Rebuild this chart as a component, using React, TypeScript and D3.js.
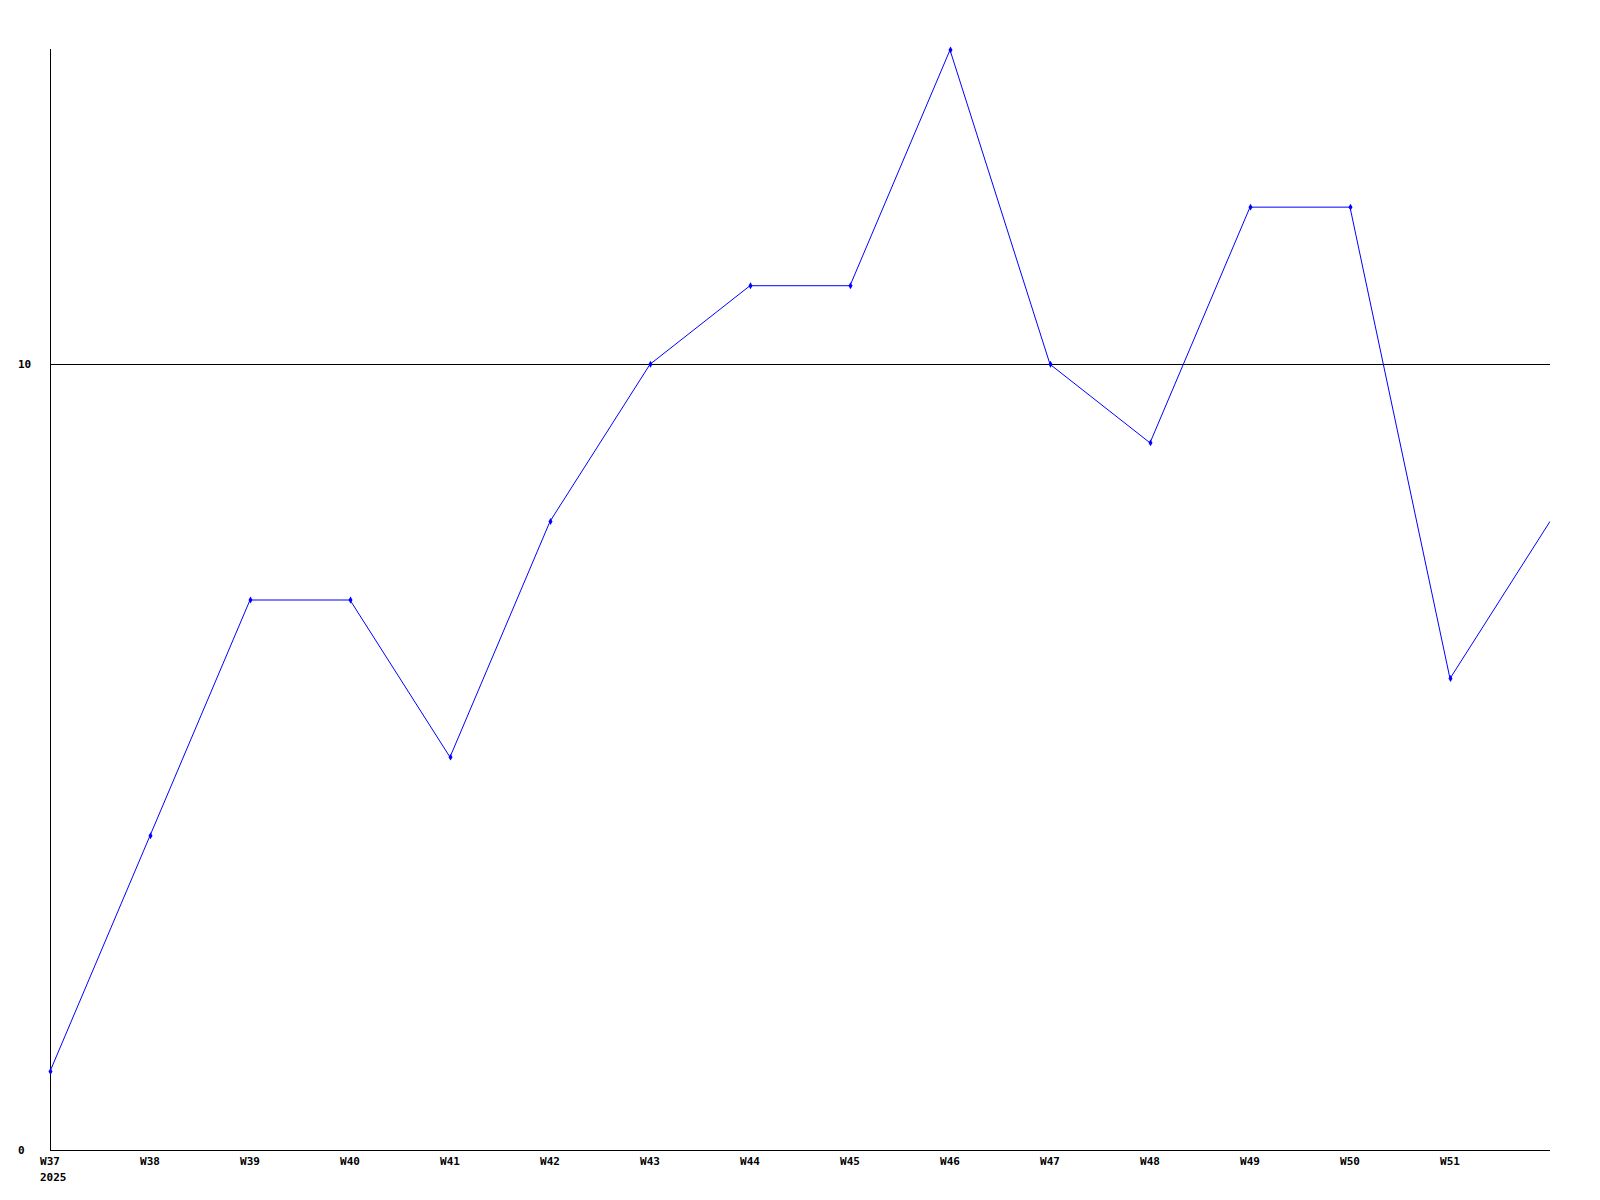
import React from "react";
import * as d3 from "d3";

const categories = ["W37","W38","W39","W40","W41","W42","W43","W44","W45","W46","W47","W48","W49","W50","W51","W52"];
const values = [1,4,7,7,5,8,10,11,11,14,10,9,12,12,6,8];
const xTickLabels = ["W37","W38","W39","W40","W41","W42","W43","W44","W45","W46","W47","W48","W49","W50","W51"];
const yTicks = [0, 10];
const yearLabel = "2025";

const W = 1600, H = 1200;
const left = 50, right = 1550, top = 50, bottom = 1150;

export default function App() {
  const x = d3.scalePoint<string>().domain(categories).range([left, right]);
  const y = d3.scaleLinear().domain([0, 14]).range([bottom, top]);
  const line = d3.line<number>()
    .x((_, i) => x(categories[i]) as number)
    .y((d) => y(d));
  const diamond = d3.symbol().type(d3.symbolDiamond).size(14)();
  const font = "'DejaVu Sans Mono', monospace";
  return (
    <svg width={W} height={H} style={{ position: "absolute", left: 0, top: 0, background: "#fff" }}>
      <defs>
        <clipPath id="plot">
          <rect x={left - 5} y={0} width={right - left + 5} height={bottom} />
        </clipPath>
      </defs>
      <rect x={0} y={0} width={W} height={H} fill="#fff" />
      {yTicks.filter(t => t !== 0).map(t => (
        <line key={t} x1={left} x2={right} y1={Math.round(y(t)) + 0.5} y2={Math.round(y(t)) + 0.5} stroke="#000" strokeWidth={1} />
      ))}
      <line x1={left + 0.5} x2={left + 0.5} y1={top - 1} y2={bottom} stroke="#000" strokeWidth={1} />
      <line x1={left} x2={right} y1={bottom + 0.5} y2={bottom + 0.5} stroke="#000" strokeWidth={1} />
      <g clipPath="url(#plot)">
        <path d={line(values) as string} fill="none" stroke="#0000ff" strokeWidth={1} />
        {values.map((v, i) => {
          const cx = x(categories[i]) as number;
          if (cx >= right) return null;
          return <path key={i} d={diamond as string} transform={`translate(${cx + 0.5},${y(v)})`} fill="#0000ff" />;
        })}
      </g>
      {yTicks.map(t => (
        <text key={t} x={18} y={y(t)} dy="0.35em" textAnchor="start" fontFamily={font} fontWeight="bold" fontSize={11} fill="#000">{t}</text>
      ))}
      {xTickLabels.map(l => (
        <text key={l} x={x(l) as number} y={bottom + 15} textAnchor="middle" fontFamily={font} fontWeight="bold" fontSize={11} fill="#000">{l}</text>
      ))}
      <text x={(x(categories[0]) as number) - 10} y={bottom + 31} textAnchor="start" fontFamily={font} fontWeight="bold" fontSize={11} fill="#000">{yearLabel}</text>
    </svg>
  );
}
